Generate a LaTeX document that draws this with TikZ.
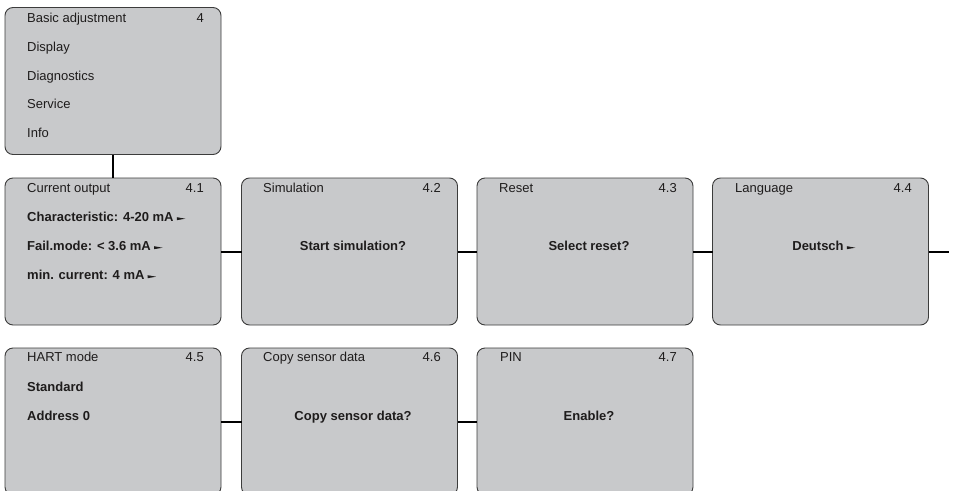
\documentclass[tikz,border=0pt]{standalone}
\usepackage{fontspec}
\setmainfont{Liberation Sans}
\definecolor{boxfill}{RGB}{200,201,203}
\definecolor{boxline}{RGB}{60,60,60}
\definecolor{txt}{RGB}{30,28,28}
\begin{document}
\begin{tikzpicture}[x=1pt,y=-1pt,
  menubox/.style={draw=boxline,line width=0.9pt,fill=boxfill,rounded corners=8pt,
    minimum width=216pt,minimum height=147pt,inner sep=0pt,outer sep=0pt},
  lbl/.style={font=\fontsize{13}{13}\selectfont,text=txt,inner sep=0pt,anchor=base west},
  num/.style={lbl,anchor=base east},
  blbl/.style={lbl,font=\fontsize{13}{13}\selectfont\bfseries},
  clbl/.style={blbl,anchor=base},
  conn/.style={line width=2pt,black},
  wedge/.pic={\fill[txt] (3,-0.8) -- (3,-3.8) -- (11.5,-2.3) -- cycle;}]
\useasboundingbox (0,0) rectangle (953,490);
\clip (0,0) rectangle (953,490);
% boxes
\node[menubox] (b0) at (113,81) {};
\node[menubox] (b1) at (113,251.5) {};
\node[menubox] (b2) at (349.5,251.5) {};
\node[menubox] (b3) at (585,251.5) {};
\node[menubox] (b4) at (820.5,251.5) {};
\node[menubox] (c1) at (113,421.5) {};
\node[menubox] (c2) at (349.5,421.5) {};
\node[menubox] (c3) at (585,421.5) {};
\coordinate (e4) at (949,251.5);
% connectors
\draw[conn] (b0.south) -- (b1.north);
\draw[conn] (b1.east) -- (b2.west);
\draw[conn] (b2.east) -- (b3.west);
\draw[conn] (b3.east) -- (b4.west);
\draw[conn] (b4.east) -- (e4);
\draw[conn] (c1.east) -- (c2.west);
\draw[conn] (c2.east) -- (c3.west);
% top box
\node[lbl] (t01) at (27,22) {Basic adjustment};
\node[num] (n0) at (204,22) {4};
\node[lbl] (t02) at (27,51) {Display};
\node[lbl] (t03) at (27,80) {Diagnostics};
\node[lbl] (t04) at (27,108.7) {Service};
\node[lbl] (t05) at (27,137.6) {Info};
% row 1
\node[lbl] (t10) at (27,192) {Current output};
\node[num] (n1) at (204,192) {4.1};
\node[blbl] (t11) at (27,221) {Characteristic: 4-20 mA};
\pic at (t11.base east) {wedge};
\node[blbl] (t12) at (27,250) {Fail.mode: < 3.6 mA};
\pic at (t12.base east) {wedge};
\node[blbl] (t13) at (27,279) {min. current: 4 mA};
\pic at (t13.base east) {wedge};
\node[lbl] (t20) at (263,192) {Simulation};
\node[num] (n2) at (441,192) {4.2};
\node[clbl] (t21) at (353,250) {Start simulation?};
\node[lbl] (t30) at (499,192) {Reset};
\node[num] (n3) at (677,192) {4.3};
\node[clbl] (t31) at (589,250) {Select reset?};
\node[lbl] (t40) at (735,192) {Language};
\node[num] (n4) at (912,192) {4.4};
\node[clbl] (t41) at (818,250) {Deutsch};
\pic at (t41.base east) {wedge};
% row 2
\node[lbl] (u10) at (27,361.7) {HART mode};
\node[num] (m1) at (204,361.7) {4.5};
\node[blbl] (u11) at (27,391) {Standard};
\node[blbl] (u12) at (27,420) {Address 0};
\node[lbl] (u20) at (263,361.7) {Copy sensor data};
\node[num] (m2) at (441,361.7) {4.6};
\node[clbl] (u21) at (353,420) {Copy sensor data?};
\node[lbl] (u30) at (500,361.7) {PIN};
\node[num] (m3) at (677,361.7) {4.7};
\node[clbl] (u31) at (589,420) {Enable?};
\end{tikzpicture}
\end{document}
